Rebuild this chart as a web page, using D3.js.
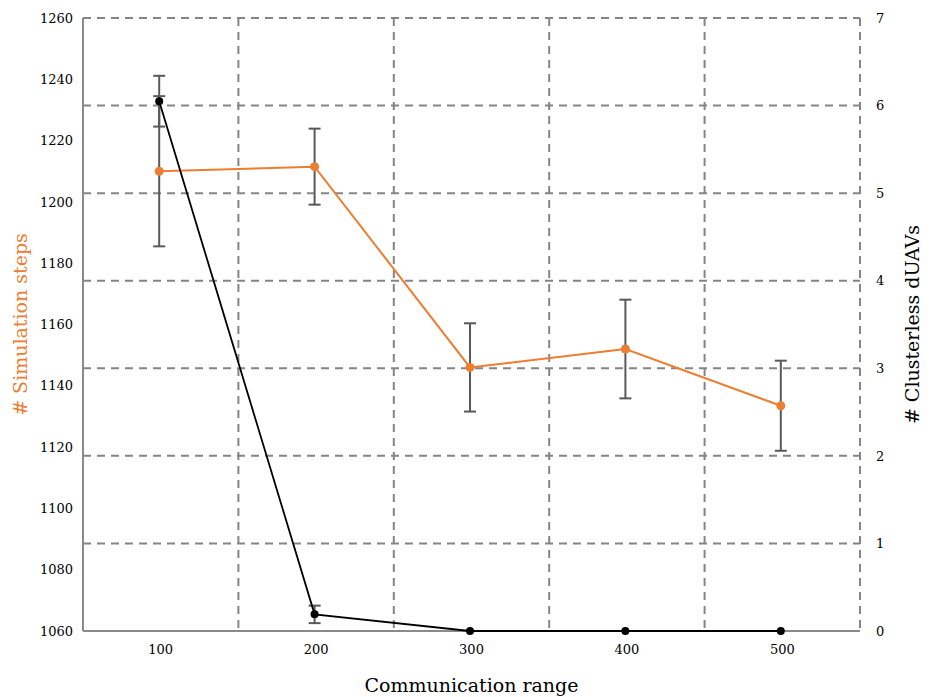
<!DOCTYPE html>
<html>
<head>
<meta charset="utf-8">
<script src="https://cdn.jsdelivr.net/npm/d3@7"></script>
<style>
  body { margin: 0; background: #fff; }
  text { font-family: "DejaVu Serif", serif; }
</style>
</head>
<body>
<div id="chart"></div>
<script>
const ranges = ["100", "200", "300", "400", "500"];
const steps = [1210, 1211.5, 1146, 1152, 1133.5];
const stepsErr = [24.5, 12.4, 14.4, 16.1, 14.7];
const clusterless = [6.05, 0.19, 0, 0, 0];
const clusterlessErr = [0.29, 0.1, 0, 0, 0];
const leftTicks = [1060, 1080, 1100, 1120, 1140, 1160, 1180, 1200, 1220, 1240, 1260];
const rightTicks = [0, 1, 2, 3, 4, 5, 6, 7];

const width = 935, height = 697;
const margin = { top: 18, right: 75, bottom: 66, left: 83 };
const innerW = width - margin.left - margin.right;
const innerH = height - margin.top - margin.bottom;

const svg = d3.select("#chart").append("svg")
  .attr("width", width)
  .attr("height", height);
const g = svg.append("g")
  .attr("transform", "translate(" + margin.left + "," + margin.top + ")");

const x = d3.scaleBand().domain(ranges).range([0, innerW]).padding(0);
const yL = d3.scaleLinear().domain([1060, 1260]).range([innerH, 0]);
const yR = d3.scaleLinear().domain([0, 7]).range([innerH, 0]);

const gridColor = "#858585";

// horizontal grid from right axis ticks
g.selectAll(".hgrid").data(rightTicks.filter(d => d > 0)).enter()
  .append("line")
  .attr("x1", 0).attr("x2", innerW)
  .attr("y1", d => yR(d)).attr("y2", d => yR(d))
  .style("stroke", gridColor).style("stroke-width", 2)
  .style("stroke-dasharray", "8,6");

// vertical grid at band edges
const edges = ranges.slice(1).map(r => x(r)).concat([innerW]);
g.selectAll(".vgrid").data(edges).enter()
  .append("line")
  .attr("x1", d => d).attr("x2", d => d)
  .attr("y1", 0).attr("y2", innerH)
  .style("stroke", gridColor).style("stroke-width", 2)
  .style("stroke-dasharray", "8,6");

// axis lines
g.append("line").attr("x1", 0).attr("x2", 0).attr("y1", 0).attr("y2", innerH)
  .style("stroke", "#8a8a8a").style("stroke-width", 2);
g.append("line").attr("x1", 0).attr("x2", innerW).attr("y1", innerH).attr("y2", innerH)
  .style("stroke", "#8a8a8a").style("stroke-width", 2);

// tick labels
const leftAxis = g.append("g")
  .call(d3.axisLeft(yL).tickValues(leftTicks).tickFormat(d3.format("d")).tickSize(0).tickPadding(10));
const rightAxis = g.append("g").attr("transform", "translate(" + innerW + ",0)")
  .call(d3.axisRight(yR).tickValues(rightTicks).tickFormat(d3.format("d")).tickSize(0).tickPadding(16));
const bottomAxis = g.append("g").attr("transform", "translate(0," + innerH + ")")
  .call(d3.axisBottom(x).tickSize(0).tickPadding(14));
[leftAxis, rightAxis, bottomAxis].forEach(a => {
  a.select(".domain").remove();
  a.selectAll("text").style("font-size", "13px").style("font-family", "'DejaVu Serif', serif").attr("fill", "#000");
});

// titles
svg.append("text")
  .attr("x", margin.left + innerW / 2).attr("y", 692)
  .attr("text-anchor", "middle")
  .style("font-size", "19px")
  .text("Communication range");
svg.append("text")
  .attr("transform", "translate(27," + (margin.top + yL(1160)) + ") rotate(-90)")
  .attr("text-anchor", "middle")
  .style("font-size", "19px")
  .style("fill", "#ED7D31")
  .text("# Simulation steps");
svg.append("text")
  .attr("transform", "translate(919," + (margin.top + yR(3.5)) + ") rotate(-90)")
  .attr("text-anchor", "middle")
  .style("font-size", "19px")
  .text("# Clusterless dUAVs");

const cx = r => x(r) + x.bandwidth() / 2 - 1.5;
const errColor = "#595959";

function errorBars(vals, errs, y) {
  const eb = g.append("g");
  vals.forEach((v, i) => {
    if (errs[i] <= 0) return;
    const xc = cx(ranges[i]);
    const y1 = y(v - errs[i]), y2 = y(v + errs[i]);
    eb.append("line").attr("x1", xc).attr("x2", xc).attr("y1", y1).attr("y2", y2)
      .style("stroke", errColor).style("stroke-width", 2);
    [y1, y2].forEach(yy => eb.append("line")
      .attr("x1", xc - 6).attr("x2", xc + 6).attr("y1", yy).attr("y2", yy)
      .style("stroke", errColor).style("stroke-width", 2));
  });
}

function series(vals, y, color, r, w) {
  const pts = vals.map((v, i) => [cx(ranges[i]), y(v)]);
  g.append("path").attr("d", d3.line()(pts))
    .style("fill", "none").style("stroke", color).style("stroke-width", w);
  g.selectAll(null).data(pts).enter().append("circle")
    .attr("cx", d => d[0]).attr("cy", d => d[1]).attr("r", r)
    .style("fill", color);
}

errorBars(steps, stepsErr, yL);
series(steps, yL, "#ED7D31", 4.5, 2);
errorBars(clusterless, clusterlessErr, yR);
series(clusterless, yR, "#000000", 4, 1.8);
</script>
</body>
</html>
